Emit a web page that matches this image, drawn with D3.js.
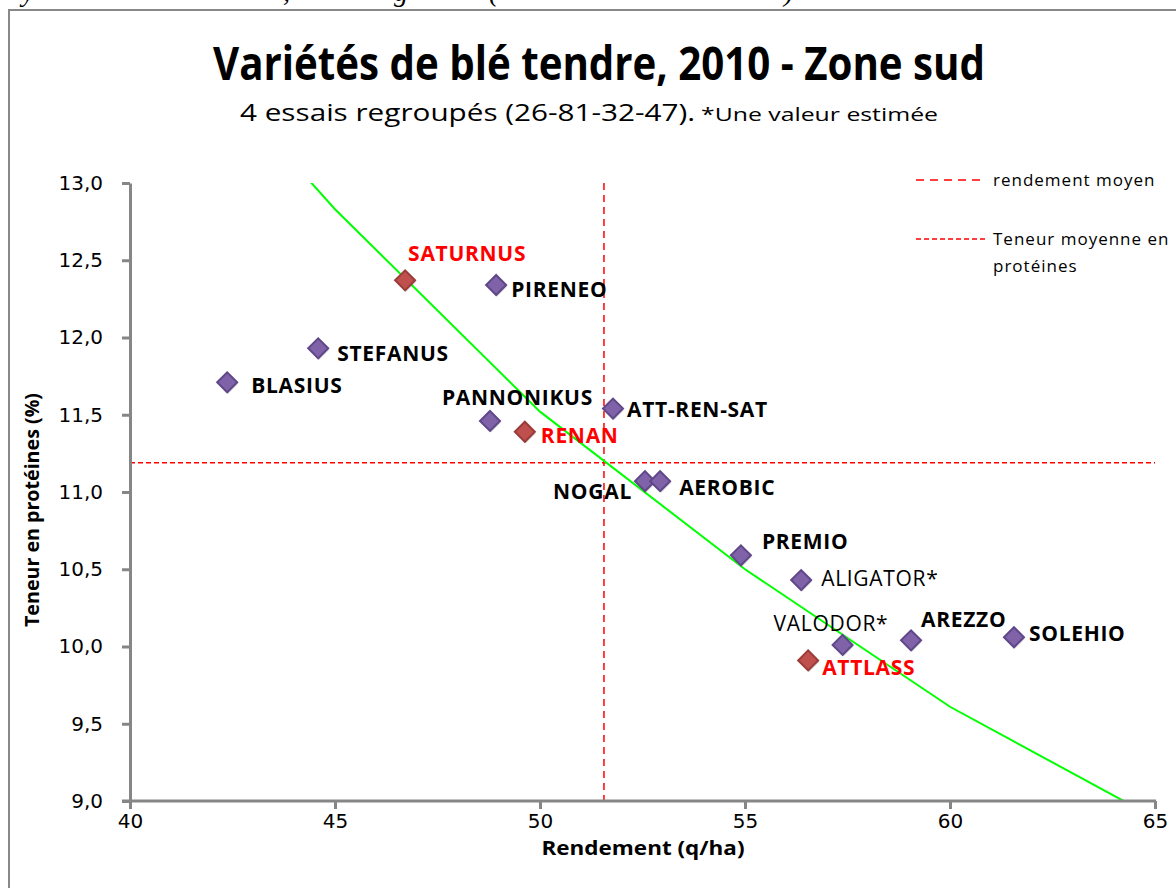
<!DOCTYPE html>
<html lang="fr">
<head>
<meta charset="UTF-8">
<title>Variétés de blé tendre, 2010 - Zone sud</title>
<script src="https://cdnjs.cloudflare.com/ajax/libs/d3/7.8.5/d3.min.js"></script>
<style>
  body { margin: 0; background: #fff; }
  svg { display: block; }
  .lbl { font-family: "Open Sans", sans-serif; font-weight: bold; font-size: 21px; letter-spacing: 0.7px; }
  .tick text { font-family: "DejaVu Sans", sans-serif; font-size: 20px; fill: #000; }
</style>
</head>
<body>
<svg id="chart" width="1176" height="888"></svg>
<script>
// Données
const varietes = ["SATURNUS", "PIRENEO", "STEFANUS", "BLASIUS", "PANNONIKUS", "RENAN", "ATT-REN-SAT",
  "NOGAL", "AEROBIC", "PREMIO", "ALIGATOR*", "VALODOR*", "AREZZO", "SOLEHIO", "ATTLASS"];
const rendement = [46.71, 48.93, 44.59, 42.37, 48.78, 49.63, 51.78, 52.56, 52.93, 54.90, 56.37, 57.38, 59.05, 61.56, 56.54];
const proteines = [12.37, 12.34, 11.93, 11.71, 11.46, 11.39, 11.54, 11.07, 11.07, 10.59, 10.43, 10.01, 10.04, 10.06, 9.91];
const temoins = ["SATURNUS", "RENAN", "ATTLASS"];      // en rouge
const estimees = ["ALIGATOR*", "VALODOR*"];            // valeur estimée

// courbe de tendance
const trendX = [40, 45, 50, 55, 60, 65];
const trendY = [14.31, 12.83, 11.52, 10.50, 9.61, 8.89];

const rendementMoyen = 51.56;
const proteineMoyenne = 11.19;

const xTicks = [40, 45, 50, 55, 60, 65];
const yTicks = [9, 9.5, 10, 10.5, 11, 11.5, 12, 12.5, 13];

// placement des étiquettes [dx, dy, ancre]
const labelPos = {
  "SATURNUS": [3, -27, "start"], "PIRENEO": [15, 4, "start"], "STEFANUS": [19, 5, "start"],
  "BLASIUS": [24, 3, "start"], "PANNONIKUS": [-48, -23, "start"], "RENAN": [16, 4, "start"],
  "ATT-REN-SAT": [14, 1, "start"], "NOGAL": [-13, 10, "end"], "AEROBIC": [19, 6, "start"],
  "PREMIO": [21, -14, "start"], "ALIGATOR*": [20, -2, "start"], "VALODOR*": [-69, -22, "start"],
  "AREZZO": [10, -21, "start"], "SOLEHIO": [15, -4, "start"], "ATTLASS": [14, 7, "start"]
};

const svg = d3.select("#chart");

// bribes de la ligne de texte du document au-dessus (coupée par le haut de l'image)
const fragments = [["y", 22], [",", 283], ["g", 394], ["(", 489], [")", 784]];
svg.selectAll("text.frag").data(fragments).join("text")
  .attr("class", "frag")
  .attr("x", d => d[1]).attr("y", 1)
  .style("font-family", "Liberation Serif").style("font-size", "28px").style("font-style", "italic")
  .text(d => d[0]);

// cadre du graphique
svg.append("rect").attr("x", 9).attr("y", 10).attr("width", 1300).attr("height", 1000)
  .attr("fill", "#fff").attr("stroke", "#888").attr("stroke-width", 2);

const x = d3.scaleLinear().domain([40, 65]).range([130, 1155]);
const y = d3.scaleLinear().domain([9, 13]).range([801, 183]);

// titre
svg.append("text").attr("x", 599).attr("y", 80).attr("text-anchor", "middle")
  .attr("textLength", 772).attr("lengthAdjust", "spacingAndGlyphs")
  .style("font-family", "Open Sans").style("font-weight", "bold").style("font-size", "46px")
  .text("Variétés de blé tendre, 2010 - Zone sud");

svg.append("text").attr("x", 240).attr("y", 121)
  .attr("textLength", 455).attr("lengthAdjust", "spacingAndGlyphs")
  .style("font-family", "Open Sans").style("font-size", "24px")
  .text("4 essais regroupés (26-81-32-47).");
svg.append("text").attr("x", 701).attr("y", 121)
  .attr("textLength", 237).attr("lengthAdjust", "spacingAndGlyphs")
  .style("font-family", "Open Sans").style("font-size", "19px")
  .text("*Une valeur estimée");

// lignes moyennes
svg.append("line")
  .attr("x1", x(rendementMoyen)).attr("x2", x(rendementMoyen))
  .attr("y1", y(13)).attr("y2", y(9))
  .attr("stroke", "#f00").attr("stroke-width", 1.5).attr("stroke-dasharray", "7,5");
svg.append("line")
  .attr("x1", x(40)).attr("x2", x(65))
  .attr("y1", y(proteineMoyenne)).attr("y2", y(proteineMoyenne))
  .attr("stroke", "#f00").attr("stroke-width", 1.5).attr("stroke-dasharray", "5,3");

// tendance
svg.append("clipPath").attr("id", "plotclip").append("rect")
  .attr("x", x(40)).attr("y", y(13)).attr("width", x(65) - x(40)).attr("height", y(9) - y(13));
svg.append("path")
  .datum(d3.zip(trendX, trendY))
  .attr("clip-path", "url(#plotclip)")
  .attr("fill", "none").attr("stroke", "#00ff00").attr("stroke-width", 2)
  .attr("d", d3.line().x(d => x(d[0])).y(d => y(d[1])));

// axes
const fmt = v => d3.format(".1f")(v).replace(".", ",");
const xAxis = svg.append("g").attr("transform", `translate(0,${y(9)})`)
  .call(d3.axisBottom(x).tickValues(xTicks).tickSize(8).tickSizeOuter(0).tickPadding(5).tickFormat(d3.format("d")));
const yAxis = svg.append("g").attr("transform", `translate(${x(40)},0)`)
  .call(d3.axisLeft(y).tickValues(yTicks).tickSize(8).tickSizeOuter(0).tickPadding(19).tickFormat(fmt));
[xAxis, yAxis].forEach(a => {
  a.select(".domain").attr("stroke", "#868686").attr("stroke-width", 3);
  a.selectAll(".tick line").attr("stroke", "#868686").attr("stroke-width", 3);
});
xAxis.select(".domain").attr("d", `M${x(40) - 8},0H${x(65) + 1}`);

// titres des axes
svg.append("text").attr("x", 643).attr("y", 855).attr("text-anchor", "middle")
  .attr("textLength", 203).attr("lengthAdjust", "spacingAndGlyphs")
  .style("font-family", "Open Sans").style("font-weight", "bold").style("font-size", "20px")
  .text("Rendement (q/ha)");
svg.append("text").attr("transform", "translate(39,510) rotate(-90)").attr("text-anchor", "middle")
  .attr("textLength", 234).attr("lengthAdjust", "spacingAndGlyphs")
  .style("font-family", "Open Sans").style("font-weight", "bold").style("font-size", "20px")
  .text("Teneur en protéines (%)");

// légende
const legend = [
  { y: 180, dash: "8,6", w: 64, lines: ["rendement moyen"] },
  { y: 239, dash: "5,3", w: 72, lines: ["Teneur moyenne en", "protéines"] }
];
legend.forEach(l => {
  svg.append("line").attr("x1", 916).attr("x2", 916 + l.w).attr("y1", l.y).attr("y2", l.y)
    .attr("stroke", "#f00").attr("stroke-width", 1.5).attr("stroke-dasharray", l.dash);
  l.lines.forEach((t, i) => svg.append("text").attr("x", 993).attr("y", l.y + 6 + i * 27)
    .style("font-family", "Open Sans").style("font-size", "17px").style("letter-spacing", "1px").text(t));
});

// points
const pts = varietes.map((v, i) => ({ name: v, x: rendement[i], y: proteines[i] }));
const isTemoin = d => temoins.includes(d.name);
const diamond = d3.symbol().type(d3.symbolSquare).size(200);
const g = svg.append("g");
g.selectAll("path.shadow").data(pts).join("path")
  .attr("class", "shadow")
  .attr("transform", d => `translate(${x(d.x) + 1},${y(d.y) + 1.5}) rotate(45)`)
  .attr("d", diamond).attr("fill", "rgba(0,0,0,0.18)");
g.selectAll("path.pt").data(pts).join("path")
  .attr("class", "pt")
  .attr("transform", d => `translate(${x(d.x)},${y(d.y)}) rotate(45)`)
  .attr("d", diamond)
  .attr("fill", d => isTemoin(d) ? "#c0504d" : "#7f62a8")
  .attr("stroke", d => isTemoin(d) ? "#9a3c3a" : "#5f4789")
  .attr("stroke-width", 2);

g.selectAll("text.lbl").data(pts).join("text")
  .attr("class", "lbl")
  .attr("x", d => x(d.x) + labelPos[d.name][0])
  .attr("y", d => y(d.y) + labelPos[d.name][1])
  .attr("dy", "0.36em")
  .attr("text-anchor", d => labelPos[d.name][2])
  .style("font-weight", d => estimees.includes(d.name) ? "normal" : "bold")
  .attr("fill", d => isTemoin(d) ? "#ff0000" : "#000")
  .text(d => d.name);
</script>
</body>
</html>
